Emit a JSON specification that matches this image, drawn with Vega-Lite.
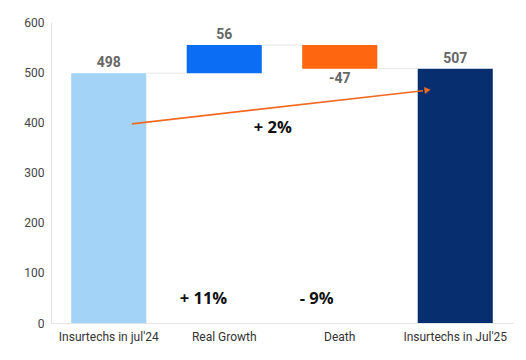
{
  "$schema": "https://vega.github.io/schema/vega-lite/v6.json",
  "width": 462,
  "height": 301,
  "autosize": {"type": "none"},
  "padding": {"left": 51, "top": 22, "right": 13, "bottom": 37},
  "background": "white",
  "config": {"view": {"stroke": null}, "font": "Roboto"},
  "datasets": {
    "bars": [
      {"cat": "Insurtechs in jul'24", "start": 0, "end": 498, "label": "498", "pos": "above"},
      {"cat": "Real Growth", "start": 498, "end": 554, "label": "56", "pos": "above"},
      {"cat": "Death", "start": 554, "end": 507, "label": "-47", "pos": "below"},
      {"cat": "Insurtechs in Jul'25", "start": 0, "end": 507, "label": "507", "pos": "above"}
    ],
    "connectors": [
      {"x": 0.825, "x2": 1.175, "y": 498},
      {"x": 1.825, "x2": 2.175, "y": 554},
      {"x": 2.825, "x2": 3.175, "y": 507}
    ],
    "arrow": [
      {"px": 0.70, "py": 397, "order": 1},
      {"px": 3.22, "py": 463, "order": 2}
    ],
    "arrowhead": [{"px": 3.26, "py": 464}],
    "notes": [
      {"px": 1.92, "py": 389, "text": "+ 2%"},
      {"px": 1.32, "py": 48, "text": "+ 11%"},
      {"px": 2.30, "py": 48, "text": "- 9%"}
    ]
  },
  "layer": [
    {
      "layer": [
        {
          "data": {"name": "bars"},
          "mark": {"type": "bar"},
          "encoding": {
            "x": {
              "field": "cat", "type": "nominal", "sort": null,
              "scale": {"paddingInner": 0.35, "paddingOuter": 0.175},
              "axis": {"title": null, "labelAngle": 0, "ticks": false, "domainColor": "#e3e3e3", "labelFontSize": 12, "labelColor": "#333", "labelPadding": 8, "labelFont": "Roboto"}
            },
            "y": {
              "field": "start", "type": "quantitative",
              "scale": {"domain": [0, 600]},
              "axis": {"title": null, "grid": false, "ticks": false, "tickCount": 6, "domainColor": "#e3e3e3", "labelFontSize": 12, "labelColor": "#444", "labelPadding": 7, "labelFont": "Roboto"}
            },
            "y2": {"field": "end"},
            "color": {
              "field": "cat", "type": "nominal", "sort": null, "legend": null,
              "scale": {"domain": ["Insurtechs in jul'24", "Real Growth", "Death", "Insurtechs in Jul'25"], "range": ["#a3d4f7", "#0b6cf4", "#ff6610", "#072f6f"]}
            }
          }
        },
        {
          "data": {"name": "bars"},
          "transform": [{"filter": "datum.pos === 'above'"}],
          "mark": {"type": "text", "baseline": "bottom", "dy": -3, "fontSize": 14, "fontWeight": "bold", "color": "#666", "font": "Roboto"},
          "encoding": {
            "x": {"field": "cat", "type": "nominal", "sort": null},
            "y": {"field": "end", "type": "quantitative"},
            "text": {"field": "label"}
          }
        },
        {
          "data": {"name": "bars"},
          "transform": [{"filter": "datum.pos === 'below'"}],
          "mark": {"type": "text", "baseline": "top", "dy": 3, "fontSize": 14, "fontWeight": "bold", "color": "#666", "font": "Roboto"},
          "encoding": {
            "x": {"field": "cat", "type": "nominal", "sort": null},
            "y": {"field": "end", "type": "quantitative"},
            "text": {"field": "label"}
          }
        }
      ]
    },
    {
      "layer": [
        {
          "data": {"name": "connectors"},
          "mark": {"type": "rule", "color": "#e6e6e6", "strokeWidth": 1},
          "encoding": {
            "x": {"field": "x", "type": "quantitative", "scale": {"domain": [0, 4], "nice": false, "zero": false}, "axis": null},
            "x2": {"field": "x2"},
            "y": {"field": "y", "type": "quantitative"}
          }
        },
        {
          "data": {"name": "arrow"},
          "mark": {"type": "line", "color": "#f26a22", "strokeWidth": 1.7},
          "encoding": {
            "x": {"field": "px", "type": "quantitative", "axis": null},
            "y": {"field": "py", "type": "quantitative"},
            "order": {"field": "order"}
          }
        },
        {
          "data": {"name": "arrowhead"},
          "mark": {"type": "point", "shape": "triangle-right", "filled": true, "color": "#f26a22", "size": 50, "angle": -7, "opacity": 1},
          "encoding": {
            "x": {"field": "px", "type": "quantitative", "axis": null},
            "y": {"field": "py", "type": "quantitative"}
          }
        },
        {
          "data": {"name": "notes"},
          "mark": {"type": "text", "fontSize": 16.5, "fontWeight": "bold", "color": "#111", "font": "Open Sans"},
          "encoding": {
            "x": {"field": "px", "type": "quantitative", "axis": null},
            "y": {"field": "py", "type": "quantitative"},
            "text": {"field": "text"}
          }
        }
      ]
    }
  ],
  "resolve": {"scale": {"x": "independent"}}
}
